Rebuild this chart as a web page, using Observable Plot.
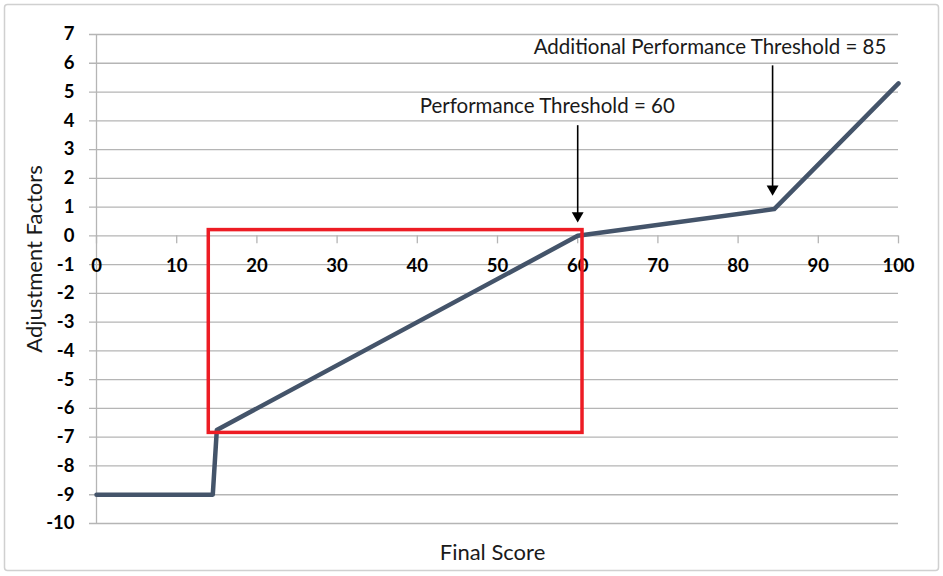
<!DOCTYPE html>
<html>
<head>
<meta charset="utf-8">
<script src="https://cdn.jsdelivr.net/npm/d3@7"></script>
<script src="https://cdn.jsdelivr.net/npm/@observablehq/plot@0.6"></script>
<style>
  body { margin: 0; background: #fff; }
  #chart svg { display: block; }
</style>
</head>
<body>
<div id="chart"></div>
<script>
// Data
const scoreX = [0, 14.5, 15, 60, 84.5, 100];
const factorY = [-9, -9, -6.75, 0, 0.93, 5.3];
const xTicks = [0, 10, 20, 30, 40, 50, 60, 70, 80, 90, 100];
const yTicks = [7, 6, 5, 4, 3, 2, 1, 0, -1, -2, -3, -4, -5, -6, -7, -8, -9, -10];
const boxX = [14, 60.6];
const boxY = [-6.85, 0.2];
const arrowX = [60, 84.3];
const arrowFrom = [3.83, 5.91];
const arrowTo = [0.46, 1.39];
const noteLabels = ["Performance Threshold = 60", "Additional Performance Threshold = 85"];
const noteX = [56.2, 76.5];
const noteY = [4.49, 6.54];

const series = scoreX.map((x, i) => ({x, y: factorY[i]}));
const arrows = arrowX.map((x, i) => ({x, y1: arrowFrom[i], y2: arrowTo[i]}));
const notes = noteLabels.map((label, i) => ({label, x: noteX[i], y: noteY[i]}));
const box = [{x1: boxX[0], x2: boxX[1], y1: boxY[0], y2: boxY[1]}];

const font = "Lato, 'Open Sans', sans-serif";
const grid = "#b5b5b5";

const chart = Plot.plot({
  width: 943,
  height: 576,
  marginLeft: 96,
  marginRight: 45,
  marginTop: 34,
  marginBottom: 53,
  x: {domain: [0, 100], axis: null},
  y: {domain: [-10, 7], axis: null},
  style: {fontFamily: font, background: "#fff"},
  marks: [
    Plot.frame({stroke: "#d0d0d0", strokeWidth: 1.5, rx: 3,
      insetLeft: -92, insetTop: -30, insetRight: -40, insetBottom: -47}),
    Plot.ruleY(yTicks, {x1: 0, x2: 100, insetLeft: -7, stroke: grid, strokeWidth: 1.3, strokeOpacity: 1}),
    Plot.ruleX([0], {y1: -10, y2: 7, stroke: grid, strokeWidth: 1.3, strokeOpacity: 1}),
    Plot.ruleX(xTicks, {y1: 0, y2: 0, insetBottom: -8, stroke: grid, strokeWidth: 1.3, strokeOpacity: 1}),
    Plot.text(yTicks, {x: 0, y: d => d, dx: -22, textAnchor: "end", fontWeight: "bold", fontSize: 18.5, fill: "#000"}),
    Plot.text(xTicks, {x: d => d, y: 0, dy: 30, textAnchor: "middle", fontWeight: "bold", fontSize: 18.5, fill: "#000"}),
    Plot.line(series, {x: "x", y: "y", stroke: "#44546A", strokeWidth: 4.5}),
    Plot.rect(box, {x1: "x1", x2: "x2", y1: "y1", y2: "y2", fill: "none", stroke: "#ED1C24", strokeWidth: 3.5}),
    Plot.ruleX(arrows, {x: "x", y1: "y1", y2: "y2", stroke: "#000", strokeWidth: 1.6, insetBottom: 8}),
    Plot.dot(arrows, {x: "x", y: "y2", symbol: "triangle", rotate: 180, r: 4.4, fill: "#000", stroke: "none", dy: -7}),
    Plot.text(notes, {x: "x", y: "y", text: "label", fontSize: 20.5, fill: "#1a1a1a", textAnchor: "middle"}),
    Plot.text(["Adjustment Factors"], {frameAnchor: "left", textAnchor: "middle", lineAnchor: "middle", rotate: -90, dx: -62, dy: -20, fontSize: 22, fill: "#1a1a1a"}),
    Plot.text(["Final Score"], {frameAnchor: "bottom", textAnchor: "middle", lineAnchor: "middle", dx: -5, dy: 29, fontSize: 22, fill: "#1a1a1a"})
  ]
});
document.getElementById("chart").appendChild(chart);
</script>
</body>
</html>
